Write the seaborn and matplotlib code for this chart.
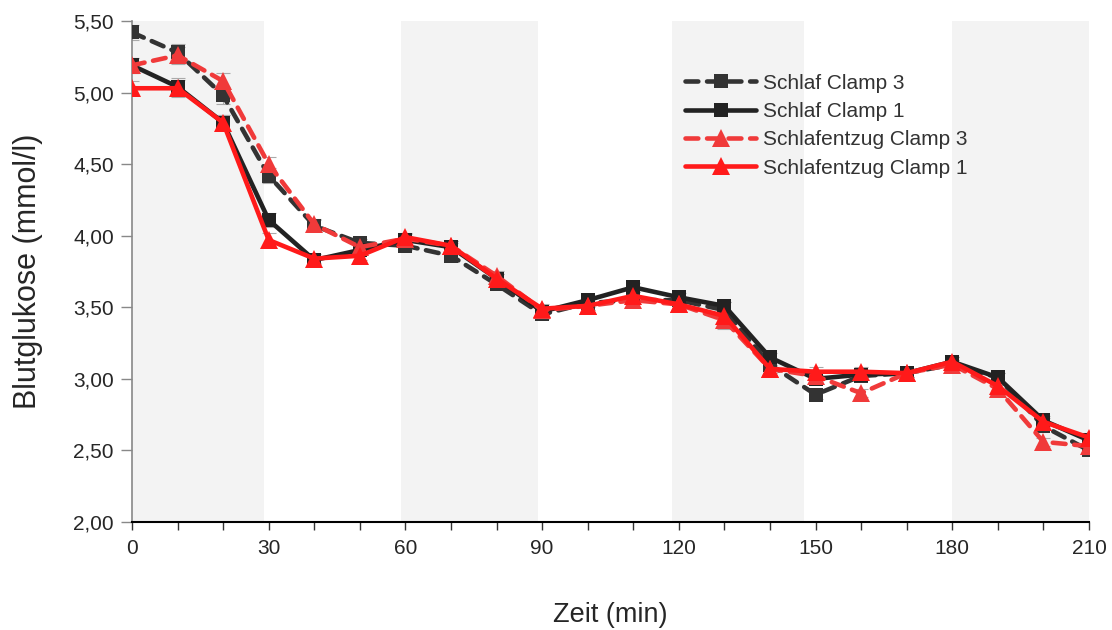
import matplotlib
matplotlib.use("Agg")
import matplotlib.pyplot as plt
import seaborn as sns
import pandas as pd
import numpy as np
from matplotlib.ticker import FuncFormatter, MultipleLocator

# ---- data ----
time = [0, 10, 20, 30, 40, 50, 60, 70, 80, 90, 100, 110, 120, 130, 140, 150, 160, 170, 180, 190, 200, 210]

schlaf_c3 = [5.42, 5.28, 4.98, 4.42, 4.07, 3.95, 3.93, 3.86, 3.66, 3.45, 3.53, 3.55, 3.55, 3.48,
             3.10, 2.89, 3.02, 3.04, 3.10, 3.01, 2.67, 2.50]
schlaf_c1 = [5.19, 5.04, 4.79, 4.11, 3.83, 3.90, 3.97, 3.92, 3.70, 3.47, 3.55, 3.64, 3.57, 3.51,
             3.15, 3.00, 3.03, 3.04, 3.12, 3.01, 2.71, 2.57]
entzug_c3 = [5.19, 5.26, 5.08, 4.50, 4.08, 3.92, 3.98, 3.93, 3.72, 3.48, 3.51, 3.55, 3.52, 3.41,
             3.07, 3.02, 2.90, 3.04, 3.10, 2.93, 2.56, 2.53]
entzug_c1 = [5.03, 5.03, 4.79, 3.97, 3.84, 3.86, 3.99, 3.93, 3.70, 3.49, 3.51, 3.58, 3.52, 3.44,
             3.07, 3.05, 3.05, 3.04, 3.12, 2.95, 2.70, 2.59]

err_c3 = [0.05, 0.06, 0.06, 0.05, 0.04, 0.03, 0.03, 0.03, 0.03, 0.03, 0.03, 0.03, 0.03, 0.06,
          0.03, 0.03, 0.03, 0.03, 0.03, 0.03, 0.03, 0.03]
err_c1 = [0.05, 0.06, 0.05, 0.05, 0.03, 0.03, 0.03, 0.03, 0.03, 0.03, 0.03, 0.03, 0.03, 0.03,
          0.03, 0.03, 0.03, 0.03, 0.03, 0.03, 0.03, 0.03]

series_names = ["Schlaf Clamp 3", "Schlaf Clamp 1", "Schlafentzug Clamp 3", "Schlafentzug Clamp 1"]
series_values = [schlaf_c3, schlaf_c1, entzug_c3, entzug_c1]
series_err = [err_c3, err_c1, err_c3, err_c1]

shade_bands = [(0, 29), (59, 89), (118.5, 147.5), (180, 210)]

x_ticks = [0, 30, 60, 90, 120, 150, 180, 210]
y_ticks = [2.0, 2.5, 3.0, 3.5, 4.0, 4.5, 5.0, 5.5]

# ---- styles ----
styles = {
    "Schlaf Clamp 3": dict(color="#333333", ls=(0, (2.8, 1.9)), marker="s", ms=10.5),
    "Schlaf Clamp 1": dict(color="#222222", ls="-", marker="s", ms=10.5),
    "Schlafentzug Clamp 3": dict(color="#f03a3a", ls=(0, (2.8, 1.9)), marker="^", ms=12.5),
    "Schlafentzug Clamp 1": dict(color="#ff1a1a", ls="-", marker="^", ms=12.5),
}

df = pd.concat([
    pd.DataFrame({"Zeit": time, "Glukose": vals, "err": err, "Gruppe": name})
    for name, vals, err in zip(series_names, series_values, series_err)
], ignore_index=True)

sns.set_theme(style="white")
plt.rcParams["font.family"] = ["Liberation Sans", "DejaVu Sans"]

fig = plt.figure(figsize=(11.12, 6.3), dpi=100)
ax = fig.add_axes([0.1187, 0.1714, 0.8606, 0.7953])

for a, b in shade_bands:
    ax.axvspan(a, b, color="#f3f3f3", lw=0, zorder=0)

for name in series_names:
    sub = df[df["Gruppe"] == name]
    st = styles[name]
    ax.errorbar(sub["Zeit"], sub["Glukose"], yerr=sub["err"], fmt="none",
                ecolor="#aaaaaa", elinewidth=0.8, capsize=5, capthick=0.8, zorder=1)
    sns.lineplot(data=sub, x="Zeit", y="Glukose", ax=ax, color=st["color"],
                 linestyle=st["ls"], marker=st["marker"], markersize=st["ms"],
                 markeredgewidth=0, linewidth=3.3, label=name, zorder=3,
                 errorbar=None, dash_capstyle="round")

ax.set_xlim(0, 210)
ax.set_ylim(2.0, 5.5)
ax.set_xticks(x_ticks)
ax.xaxis.set_minor_locator(MultipleLocator(10))
ax.set_yticks(y_ticks)
ax.yaxis.set_major_formatter(FuncFormatter(lambda v, p: f"{v:.2f}".replace(".", ",")))

ax.tick_params(axis="x", which="both", direction="out", bottom=True, length=6,
               width=1, color="#333333", labelsize=15, pad=6)
ax.tick_params(axis="y", which="major", direction="out", left=True, length=8,
               width=1, color="#888888", labelsize=15, pad=5)

for s in ["top", "right"]:
    ax.spines[s].set_visible(False)
ax.spines["left"].set_color("#888888")
ax.spines["left"].set_linewidth(1.2)
ax.spines["bottom"].set_color("#000000")
ax.spines["bottom"].set_linewidth(1.5)

ax.set_xlabel("Zeit (min)", fontsize=19.5, labelpad=32)
ax.set_ylabel("Blutglukose (mmol/l)", fontsize=22, labelpad=22)

leg = ax.legend(loc="upper left", bbox_to_anchor=(0.578, 0.895), frameon=False,
                fontsize=15, handlelength=3.4, handletextpad=0.35, labelspacing=0.45,
                borderaxespad=0, borderpad=0)
for t in leg.get_texts():
    t.set_color("#333333")

fig.savefig("out.png", dpi=100)
